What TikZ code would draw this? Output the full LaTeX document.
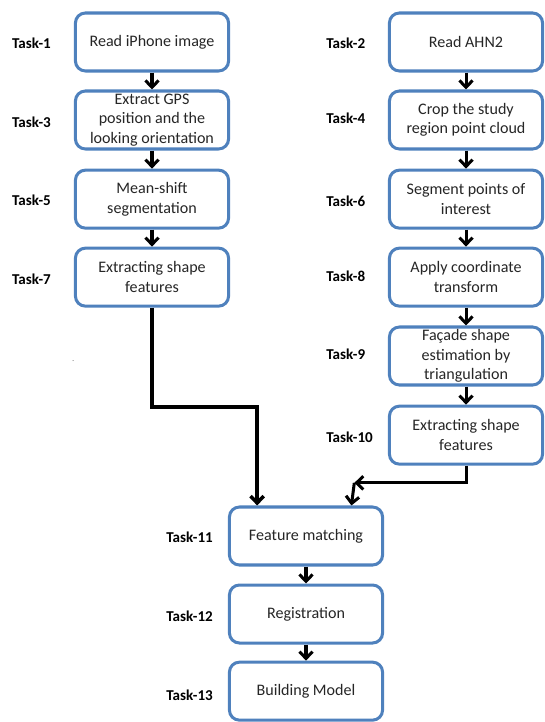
\documentclass[tikz,border=0pt]{standalone}
\usepackage{fontspec}
\setmainfont{Carlito}
\usepackage{xcolor}
\usetikzlibrary{positioning, arrows.meta, calc}
\definecolor{boxblue}{HTML}{4F81BD}
\definecolor{inkgrey}{HTML}{262626}

\begin{document}
\begin{tikzpicture}[
  arr/.style={-{Straight Barb[length=2.4mm, width=4.6mm]}, line width=3pt},
  taskbox/.style={
    rectangle, rounded corners=0.35cm,
    draw=boxblue, line width=3pt, fill=white,
    text=inkgrey, font=\fontsize{16}{19.5}\selectfont,
    minimum width=5.36cm, minimum height=2.03cm,
    align=center, inner sep=2pt
  },
  tasklbl/.style={
    anchor=west, text=black,
    font=\fontsize{15}{18}\selectfont\bfseries
  }
]
\useasboundingbox (0,0) rectangle (19.04,-25.27);

%% 3 columns of boxes at x=5.32 (image), 16.31 (AHN2), 10.71 (merged)
%% Rows: -1.47, -4.2, -6.97, -9.7, -12.46, -15.23, then -18.76, -21.49, -24.19

%% ─── LEFT COLUMN: IPHONE IMAGE ──────────────────────────────────────────────
\node[taskbox] (task1) at (5.32, -1.47) {Read iPhone image};
\node[taskbox] (task3) at (5.32, -4.2)
  {Extract GPS\\position and the\\looking orientation};
\node[taskbox] (task5) at (5.32, -6.97) {Mean-shift\\segmentation};
\node[taskbox] (task7) at (5.32, -9.7) {Extracting shape\\features};

\node[tasklbl] (lbl1) at (0.3, -1.5) {Task-1};
\node[tasklbl] (lbl3) at (0.3, -4.27) {Task-3};
\node[tasklbl] (lbl5) at (0.3, -7.0) {Task-5};
\node[tasklbl] (lbl7) at (0.3, -9.77) {Task-7};

\draw[arr] (task1) -- (task3);
\draw[arr] (task3) -- (task5);
\draw[arr] (task5) -- (task7);

%% ─── RIGHT COLUMN: AHN2 POINT CLOUD ─────────────────────────────────────────
\node[taskbox] (task2) at (16.31, -1.47) {Read AHN2};
\node[taskbox] (task4) at (16.31, -4.2)
  {Crop the study\\region point cloud};
\node[taskbox] (task6) at (16.31, -6.97) {Segment points of\\interest};
\node[taskbox] (task8) at (16.31, -9.7) {Apply coordinate\\transform};
\node[taskbox] (task9) at (16.31, -12.46)
  {Façade shape\\estimation by\\triangulation};
\node[taskbox] (task10) at (16.31, -15.23) {Extracting shape\\features};

\node[tasklbl] (lbl2) at (11.3, -1.5) {Task-2};
\node[tasklbl] (lbl4) at (11.3, -4.13) {Task-4};
\node[tasklbl] (lbl6) at (11.3, -7.03) {Task-6};
\node[tasklbl] (lbl8) at (11.3, -9.66) {Task-8};
\node[tasklbl] (lbl9) at (11.3, -12.39) {Task-9};
\node[tasklbl] (lbl10) at (11.3, -15.3) {Task-10};

\draw[arr] (task2) -- (task4);
\draw[arr] (task4) -- (task6);
\draw[arr] (task6) -- (task8);
\draw[arr] (task8) -- (task9);
\draw[arr] (task9) -- (task10);

%% stray dot left of the image column
\node[text=gray, font=\small, inner sep=0pt] (dot) at (2.56, -12.62) {.};

%% ─── MERGED COLUMN: MATCHING AND MODEL ──────────────────────────────────────
\node[taskbox] (task11) at (10.71, -18.76) {Feature matching};
\node[taskbox] (task12) at (10.71, -21.49) {Registration};
\node[taskbox] (task13) at (10.71, -24.19) {Building Model};

\node[tasklbl] (lbl11) at (5.7, -18.8) {Task-11};
\node[tasklbl] (lbl12) at (5.7, -21.56) {Task-12};
\node[tasklbl] (lbl13) at (5.7, -24.32) {Task-13};

\draw[arr] (task11) -- (task12);
\draw[arr] (task12) -- (task13);

%% ─── ELBOW CONNECTORS INTO FEATURE MATCHING ─────────────────────────────────
\coordinate (turnL) at (9.0, -14.25);
\coordinate (turnR) at (12.4, -16.9);

%% image features: down, right, down
\draw[arr, line width=3.5pt, line join=miter]
  (task7.south) |- (turnL) -- (turnL |- task11.north);
%% point cloud features: down, left (arrow at corner), then down
\draw[arr, line join=miter] (task10.south) |- (turnR);
\draw[arr] (turnR) -- ([xshift=-0.1cm]turnR |- task11.north);

\end{tikzpicture}
\end{document}
